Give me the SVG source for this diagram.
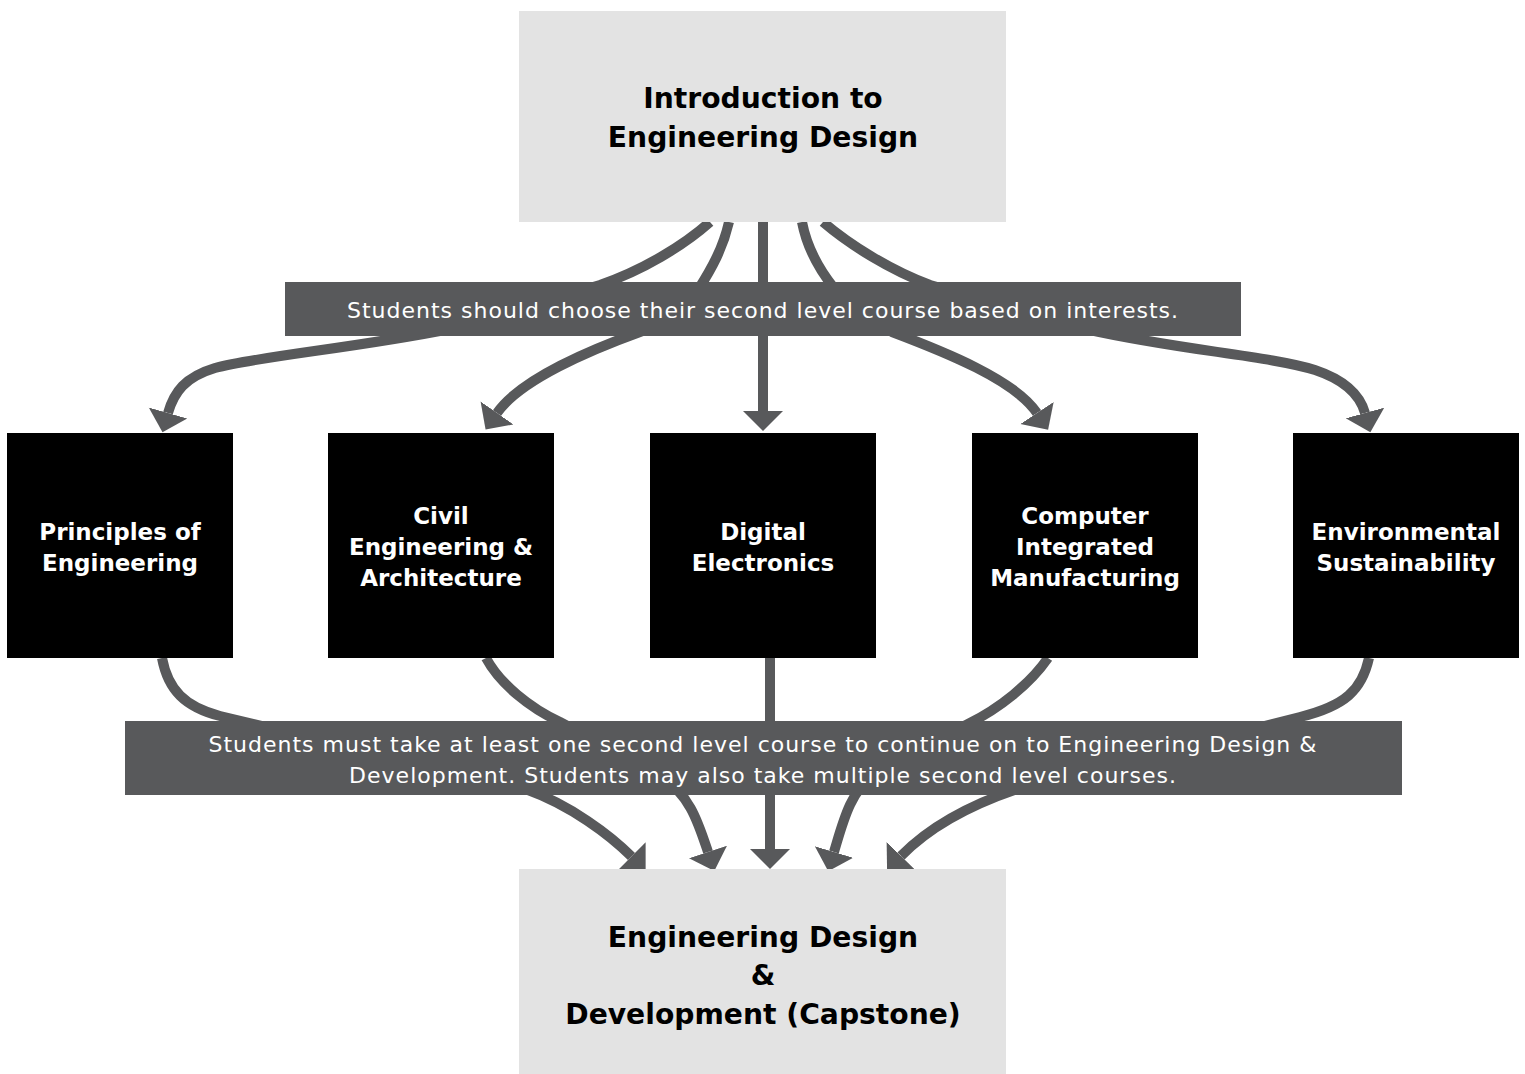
<svg xmlns="http://www.w3.org/2000/svg" width="1525" height="1074" viewBox="0 0 1525 1074">
<style>
.light{fill:#e3e3e3}
.dark{fill:#000}
.band{fill:#58595b}
.conn{fill:none;stroke:#58595b;stroke-width:10}
.big{font-family:"DejaVu Sans","Liberation Sans",sans-serif;font-weight:bold;font-size:28.2px;fill:#000;text-anchor:middle}
.lbl{font-family:"DejaVu Sans","Liberation Sans",sans-serif;font-weight:bold;font-size:23px;fill:#fff;text-anchor:middle}
.note{font-family:"DejaVu Sans","Liberation Sans",sans-serif;font-size:22px;letter-spacing:1px;fill:#fff;text-anchor:middle}
</style>
<defs>
<marker id="ah" markerUnits="userSpaceOnUse" markerWidth="22" markerHeight="42" viewBox="0 -21 22 42" refX="0" refY="0" orient="auto">
<path d="M0,-20 L20,0 L0,20 z" fill="#58595b"/>
</marker>
</defs>
<rect width="1525" height="1074" fill="#fff"/>
<g id="connectors">
<path class="conn" marker-end="url(#ah)" d="M710,222 C683,246 643,270 600,285 L450,329 C355,348 260,356 215,368 C185,377 174,392 168,413"/>
<path class="conn" marker-end="url(#ah)" d="M729,222 C723,248 712,268 698,290 C680,312 660,325 640,332 C590,350 520,380 497,413"/>
<path class="conn" marker-end="url(#ah)" d="M763,222 V411"/>
<path class="conn" marker-end="url(#ah)" d="M802,222 C807,248 818,268 834,288 C855,312 875,325 892,332 C945,352 1015,380 1037,413"/>
<path class="conn" marker-end="url(#ah)" d="M823,222 C850,245 890,270 930,285 L1090,330 C1180,350 1270,356 1315,370 C1345,380 1360,395 1365,413"/>
<path class="conn" marker-end="url(#ah)" d="M162,658 C168,690 185,707 220,716 L528,790 C570,805 610,835 631.5,856.5"/>
<path class="conn" marker-end="url(#ah)" d="M486,658 C500,684 530,708 560,722 L660,775 C690,795 698,822 708,852"/>
<path class="conn" marker-end="url(#ah)" d="M770,658 V849"/>
<path class="conn" marker-end="url(#ah)" d="M1048,658 C1030,684 1000,708 968,724 L875,772 C850,792 843,822 834,852"/>
<path class="conn" marker-end="url(#ah)" d="M1369,658 C1362,690 1345,706 1300,717 L1020,788 C975,803 933,823 901,856"/>
</g>
<g id="intro">
<rect class="light" x="519" y="11" width="487" height="211"/>
<text class="big" x="763" y="108">Introduction to</text>
<text class="big" x="763" y="147">Engineering Design</text>
</g>
<g id="note-choose">
<rect class="band" x="285" y="282" width="956" height="54"/>
<text class="note" x="763" y="318">Students should choose their second level course based on interests.</text>
</g>
<g id="poe">
<rect class="dark" x="7" y="433" width="226" height="225"/>
<text class="lbl" x="120" y="540">Principles of</text>
<text class="lbl" x="120" y="571">Engineering</text>
</g>
<g id="cea">
<rect class="dark" x="328" y="433" width="226" height="225"/>
<text class="lbl" x="441" y="524">Civil</text>
<text class="lbl" x="441" y="555">Engineering &amp;</text>
<text class="lbl" x="441" y="586">Architecture</text>
</g>
<g id="de">
<rect class="dark" x="650" y="433" width="226" height="225"/>
<text class="lbl" x="763" y="540">Digital</text>
<text class="lbl" x="763" y="571">Electronics</text>
</g>
<g id="cim">
<rect class="dark" x="972" y="433" width="226" height="225"/>
<text class="lbl" x="1085" y="524">Computer</text>
<text class="lbl" x="1085" y="555">Integrated</text>
<text class="lbl" x="1085" y="586">Manufacturing</text>
</g>
<g id="es">
<rect class="dark" x="1293" y="433" width="226" height="225"/>
<text class="lbl" x="1406" y="540">Environmental</text>
<text class="lbl" x="1406" y="571">Sustainability</text>
</g>
<g id="note-must">
<rect class="band" x="125" y="721" width="1277" height="74"/>
<text class="note" x="763" y="752">Students must take at least one second level course to continue on to Engineering Design &amp;</text>
<text class="note" x="763" y="783">Development. Students may also take multiple second level courses.</text>
</g>
<g id="capstone">
<rect class="light" x="519" y="869" width="487" height="205"/>
<text class="big" x="763" y="947">Engineering Design</text>
<text class="big" x="763" y="985">&amp;</text>
<text class="big" x="763" y="1024">Development (Capstone)</text>
</g>
</svg>
